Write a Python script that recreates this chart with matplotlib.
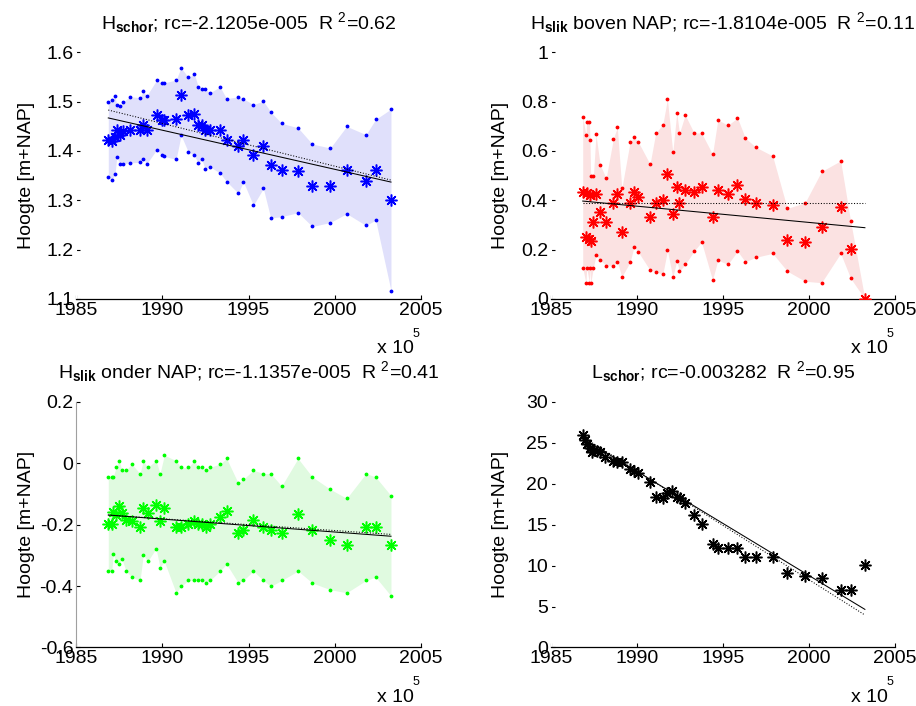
import numpy as np
import matplotlib
matplotlib.use('Agg')
import matplotlib.pyplot as plt

plt.rcParams['font.family'] = ['Liberation Sans', 'DejaVu Sans']
plt.rcParams['mathtext.fontset'] = 'custom'
plt.rcParams['mathtext.rm'] = 'Liberation Sans'
plt.rcParams['mathtext.bf'] = 'Liberation Sans:bold'
plt.rcParams['mathtext.it'] = 'Liberation Sans:italic'

# --- H schor (top left) ---
schor_years = [1986.87, 1987.07, 1987.26, 1987.36, 1987.55, 1987.74, 1988.13, 1988.71, 1988.90,
               1989.10, 1989.68, 1989.97, 1990.12, 1990.80, 1991.09, 1991.51, 1991.86, 1992.09,
               1992.29, 1992.48, 1992.77, 1993.35, 1993.73, 1994.41, 1994.70, 1995.28, 1995.86,
               1996.29, 1996.92, 1997.87, 1998.70, 1999.74, 2000.69, 2001.81, 2002.37, 2003.26]
schor_mean = [1.423, 1.421, 1.428, 1.442, 1.433, 1.440, 1.443, 1.443, 1.452, 1.443, 1.472, 1.462,
              1.462, 1.464, 1.514, 1.472, 1.474, 1.453, 1.452, 1.443, 1.443, 1.443, 1.423, 1.411,
              1.423, 1.392, 1.411, 1.371, 1.362, 1.360, 1.330, 1.330, 1.362, 1.340, 1.362, 1.301]
schor_max = [1.500, 1.503, 1.511, 1.493, 1.491, 1.500, 1.510, 1.508, 1.522, 1.512, 1.544, 1.537,
             1.538, 1.544, 1.569, 1.549, 1.556, 1.530, 1.525, 1.525, 1.518, 1.530, 1.506, 1.510,
             1.506, 1.494, 1.501, 1.479, 1.456, 1.447, 1.414, 1.406, 1.450, 1.433, 1.464, 1.485]
schor_min = [1.347, 1.341, 1.353, 1.387, 1.374, 1.374, 1.376, 1.377, 1.384, 1.374, 1.403, 1.391,
             1.389, 1.383, 1.432, 1.398, 1.391, 1.375, 1.383, 1.364, 1.368, 1.355, 1.338, 1.314,
             1.338, 1.290, 1.324, 1.264, 1.267, 1.275, 1.247, 1.255, 1.273, 1.249, 1.260, 1.117]
schor_fit = [1.467, 1.337]
schor_dot = [1.483, 1.341]

# --- H slik boven NAP (top right) ---
boven_years = [1986.86, 1987.05, 1987.09, 1987.25, 1987.28, 1987.32, 1987.48, 1987.63, 1987.87,
               1988.22, 1988.64, 1988.87, 1989.13, 1989.61, 1989.84, 1990.09, 1990.77, 1991.10,
               1991.51, 1991.78, 1992.09, 1992.32, 1992.48, 1992.81, 1993.33, 1993.76, 1994.40,
               1994.71, 1995.29, 1995.85, 1996.30, 1996.92, 1997.89, 1998.74, 1999.77, 2000.73,
               2001.84, 2002.42, 2003.25]
boven_mean = [0.435, 0.252, 0.428, 0.242, 0.421, 0.236, 0.313, 0.424, 0.351, 0.313, 0.391, 0.424,
              0.270, 0.391, 0.435, 0.414, 0.331, 0.391, 0.401, 0.505, 0.344, 0.455, 0.391, 0.441,
              0.432, 0.455, 0.331, 0.441, 0.424, 0.464, 0.404, 0.391, 0.383, 0.239, 0.232, 0.290,
              0.371, 0.201, 0.000]
boven_max = [0.738, 0.664, 0.718, 0.718, 0.644, 0.498, 0.498, 0.667, 0.545, 0.489, 0.650, 0.696,
             0.448, 0.636, 0.656, 0.636, 0.547, 0.673, 0.707, 0.810, 0.595, 0.754, 0.673, 0.746,
             0.673, 0.673, 0.587, 0.727, 0.704, 0.734, 0.653, 0.615, 0.580, 0.367, 0.390, 0.517,
             0.560, 0.316, 0.000]
boven_min = [0.127, 0.063, 0.127, 0.066, 0.127, 0.063, 0.127, 0.178, 0.158, 0.135, 0.135, 0.151,
             0.090, 0.149, 0.212, 0.190, 0.117, 0.111, 0.100, 0.197, 0.088, 0.154, 0.113, 0.140,
             0.194, 0.231, 0.077, 0.158, 0.140, 0.194, 0.151, 0.169, 0.185, 0.113, 0.072, 0.066,
             0.185, 0.084, 0.000]
boven_fit = [0.397, 0.289]
boven_dot = [0.391, 0.391]

# --- H slik onder NAP (bottom left) ---
onder_years = [1986.87, 1987.07, 1987.16, 1987.32, 1987.51, 1987.65, 1987.90, 1988.23, 1988.71,
               1988.90, 1989.15, 1989.64, 1989.87, 1990.12, 1990.80, 1991.09, 1991.51, 1991.86,
               1992.09, 1992.29, 1992.54, 1992.77, 1993.35, 1993.73, 1994.41, 1994.70, 1995.28,
               1995.86, 1996.29, 1996.92, 1997.87, 1998.70, 1999.74, 2000.69, 2001.81, 2002.37,
               2003.26]
onder_mean = [-0.197, -0.199, -0.158, -0.170, -0.140, -0.164, -0.186, -0.188, -0.208, -0.146,
              -0.164, -0.137, -0.188, -0.145, -0.208, -0.208, -0.199, -0.188, -0.197, -0.199,
              -0.208, -0.199, -0.175, -0.155, -0.229, -0.218, -0.186, -0.208, -0.218, -0.229,
              -0.167, -0.218, -0.249, -0.267, -0.208, -0.208, -0.267]
onder_max = [-0.045, -0.045, -0.045, -0.014, 0.008, -0.023, -0.023, -0.003, -0.034, 0.008,
             -0.014, 0.008, -0.034, 0.026, 0.008, -0.014, -0.014, 0.008, -0.014, -0.014,
             -0.023, -0.014, -0.003, 0.015, -0.066, -0.053, -0.023, -0.034, -0.034, -0.075,
             0.015, -0.045, -0.085, -0.115, -0.034, -0.045, -0.106]
onder_min = [-0.351, -0.351, -0.297, -0.320, -0.327, -0.311, -0.351, -0.371, -0.382, -0.298,
             -0.320, -0.278, -0.340, -0.320, -0.422, -0.401, -0.382, -0.382, -0.382, -0.382,
             -0.390, -0.382, -0.351, -0.329, -0.390, -0.382, -0.351, -0.382, -0.401, -0.382,
             -0.351, -0.390, -0.412, -0.422, -0.382, -0.371, -0.432]
onder_fit = [-0.169, -0.238]
onder_dot = [-0.169, -0.232]

# --- L schor (bottom right) ---
lschor_years = [1986.86, 1986.99, 1987.13, 1987.28, 1987.38, 1987.52, 1987.71, 1987.87, 1988.16,
                1988.64, 1988.87, 1989.13, 1989.61, 1989.84, 1990.09, 1990.77, 1991.10, 1991.51,
                1991.78, 1992.03, 1992.32, 1992.52, 1992.81, 1993.33, 1993.76, 1994.40, 1994.71,
                1995.29, 1995.85, 1996.30, 1996.92, 1997.89, 1998.74, 1999.77, 2000.73, 2001.84,
                2002.42, 2003.25]
lschor_vals = [25.91, 25.38, 24.82, 24.29, 23.88, 24.08, 24.00, 23.88, 23.27, 22.78, 22.66, 22.58,
               21.73, 21.56, 21.24, 20.22, 18.39, 18.19, 18.80, 19.12, 18.31, 18.19, 17.58, 16.16,
               15.06, 12.62, 12.09, 12.17, 12.17, 11.08, 11.08, 11.08, 9.04, 8.76, 8.43, 7.01,
               7.01, 10.06]
lschor_fit = [25.5, 4.65]
lschor_dot = [25.7, 3.96]

titles = [r'H$_{\mathbf{schor}}$; rc=-2.1205e-005  R $^{2}$=0.62',
          r'H$_{\mathbf{slik}}$ boven NAP; rc=-1.8104e-005  R $^{2}$=0.11',
          r'H$_{\mathbf{slik}}$ onder NAP; rc=-1.1357e-005  R $^{2}$=0.41',
          r'L$_{\mathbf{schor}}$; rc=-0.003282  R $^{2}$=0.95']

ASTERISK = (8, 2, 0)
FS = 14


def draw_panel(ax, years, mean, color, fit, dot, lo=None, hi=None, fillcolor=None):
    if lo is not None:
        ax.fill_between(years, lo, hi, color=fillcolor, lw=0, zorder=1)
        ax.plot(years, hi, ls='none', marker='.', color=color, ms=3.5, zorder=2)
        ax.plot(years, lo, ls='none', marker='.', color=color, ms=3.5, zorder=2)
    ax.plot(years, mean, ls='none', marker=ASTERISK, color=color, ms=8.5, mew=1.1, zorder=3)
    ends = [years[0], years[-1]]
    ax.plot(ends, fit, '-', color='k', lw=0.75, zorder=4)
    ax.plot(ends, dot, ':', color='k', lw=0.75, zorder=4)


def style_axes(ax, ylim, yticks, yticklabels, title, left_color):
    ax.set_xlim(1985, 2005)
    ax.set_xticks([1985, 1990, 1995, 2000, 2005])
    ax.set_ylim(*ylim)
    ax.set_yticks(yticks)
    ax.set_yticklabels(yticklabels)
    for s in ['top', 'right']:
        ax.spines[s].set_visible(False)
    ax.spines['left'].set_color(left_color)
    ax.spines['bottom'].set_linewidth(0.9)
    ax.tick_params(direction='in', length=3, width=0.8, labelsize=FS, pad=2)
    ax.set_ylabel('Hoogte [m+NAP]', fontsize=FS)
    ax.yaxis.set_label_coords(-0.12, 0.5)
    ax.set_title(title, fontsize=FS, pad=17)
    ax.annotate('x 10', xy=(1, 0), xycoords='axes fraction', xytext=(-5, -36),
                textcoords='offset points', ha='right', va='center', fontsize=FS)
    ax.annotate('5', xy=(1, 0), xycoords='axes fraction', xytext=(-1, -25),
                textcoords='offset points', ha='right', va='center', fontsize=9)


fig = plt.figure(figsize=(9.16, 7.06), dpi=100)
ax1 = fig.add_axes([0.0830, 0.5765, 0.3766, 0.3494])
ax2 = fig.add_axes([0.6012, 0.5765, 0.3759, 0.3494])
ax3 = fig.add_axes([0.0830, 0.0829, 0.3766, 0.3482])
ax4 = fig.add_axes([0.6012, 0.0829, 0.3759, 0.3482])

draw_panel(ax1, schor_years, schor_mean, '#0000ff', schor_fit, schor_dot,
           schor_min, schor_max, '#e0e0fb')
style_axes(ax1, (1.1, 1.6), np.arange(1.1, 1.61, 0.1),
           ['1.1', '1.2', '1.3', '1.4', '1.5', '1.6'], titles[0], 'white')

draw_panel(ax2, boven_years, boven_mean, '#ff0000', boven_fit, boven_dot,
           boven_min, boven_max, '#fbe2e2')
style_axes(ax2, (0, 1), [0, 0.2, 0.4, 0.6, 0.8, 1],
           ['0', '0.2', '0.4', '0.6', '0.8', '1'], titles[1], 'white')

draw_panel(ax3, onder_years, onder_mean, '#00ff00', onder_fit, onder_dot,
           onder_min, onder_max, '#e0fae0')
style_axes(ax3, (-0.6, 0.2), [-0.6, -0.4, -0.2, 0, 0.2],
           ['-0.6', '-0.4', '-0.2', '0', '0.2'], titles[2], '#a0a0a0')

draw_panel(ax4, lschor_years, lschor_vals, '#000000', lschor_fit, lschor_dot)
style_axes(ax4, (0, 30), [0, 5, 10, 15, 20, 25, 30],
           ['0', '5', '10', '15', '20', '25', '30'], titles[3], 'white')

fig.savefig('out.png', dpi=100)
